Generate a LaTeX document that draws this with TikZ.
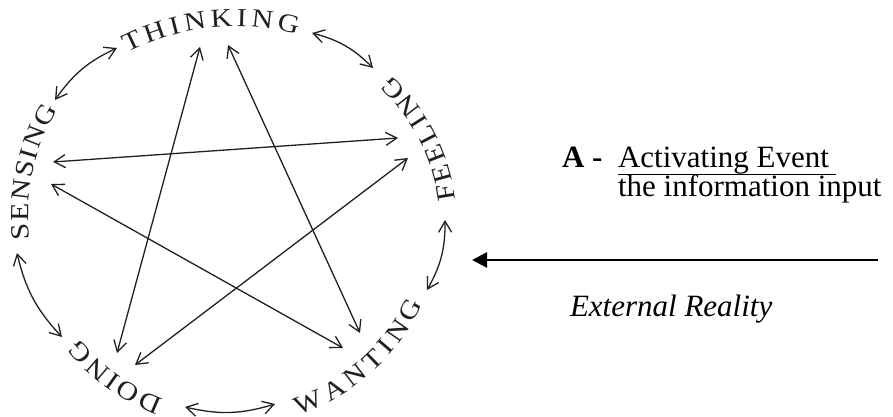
\documentclass[tikz,border=0pt]{standalone}
\usepackage{fontspec}
\newfontfamily\timesfont{Liberation Serif}
\newfontfamily\wideface[FakeStretch=1.15]{Liberation Serif}
\usetikzlibrary{arrows.meta,decorations.text}
\newcommand{\wordfont}{\wideface\fontsize{26}{26}\selectfont}
\newcommand{\notefont}{\timesfont\fontsize{31}{29}\selectfont}

\begin{document}
\begin{tikzpicture}[x=1pt, y=1pt, every node/.style={inner sep=0pt, outer sep=0pt}]
    % colours
    \definecolor{ink}{RGB}{35,31,32}

    % styles
    \tikzstyle{word} = [decorate, font=\wordfont, decoration={text along path, text align={fit to path}, text color=ink}]
    \tikzstyle{link} = [ink, line width=1.3pt, {Straight Barb[length=11pt,width=13pt]}-{Straight Barb[length=11pt,width=13pt]}]
    \tikzstyle{ring} = [link, bend left=15]
    \tikzstyle{note} = [anchor=base west, font=\notefont]

    \useasboundingbox (0,0) rectangle (893,417);

    % centres of the word arcs
    \coordinate (cc) at (232,202);
    \coordinate (ct) at (235,157);
    \coordinate (cf) at (255,192);

    % the five words round the circle
    \path[word, decoration={text={|\wordfont|THINKING}}] ([shift={(117.5:233.5pt)}]ct) arc[start angle=117.5, end angle=74.5, radius=233.5pt];
    \path[word, decoration={text={|\wordfont|SENSING}}] ([shift={(187:203.5pt)}]cc) arc[start angle=187, end angle=148.8, radius=203.5pt];
    \path[word, decoration={text={|\wordfont|DOING}}] ([shift={(249.7:196.5pt)}]cc) arc[start angle=249.7, end angle=218.9, radius=196.5pt];
    \path[word, decoration={text={|\wordfont|WANTING}}] ([shift={(288.5:210.5pt)}]cc) arc[start angle=288.5, end angle=335, radius=210.5pt];
    \path[word, decoration={text={|\wordfont|FEELING}}] ([shift={(7.2:202pt)}]cf) arc[start angle=7.2, end angle=47.8, radius=202pt];

    % ends of the star
    \coordinate (t1) at (200,370);
    \coordinate (t2) at (228,372);
    \coordinate (s1) at (53,255);
    \coordinate (s2) at (51,233);
    \coordinate (f1) at (398,279);
    \coordinate (f2) at (408,259);
    \coordinate (d1) at (117,64);
    \coordinate (d2) at (135,52);
    \coordinate (w1) at (360,84);
    \coordinate (w2) at (343,69);

    % ends of the ring arrows
    \coordinate (s3) at (55,317);
    \coordinate (t3) at (117,369);
    \coordinate (t4) at (312,384);
    \coordinate (f3) at (373,349);
    \coordinate (f4) at (445,197);
    \coordinate (w3) at (427,127);
    \coordinate (w4) at (275,13);
    \coordinate (d3) at (185,10);
    \coordinate (d4) at (62,80);
    \coordinate (s4) at (17,164);

    % star
    \draw[link] (t1) -- (d1);
    \draw[link] (t2) -- (w1);
    \draw[link] (s1) -- (f1);
    \draw[link] (s2) -- (w2);
    \draw[link] (f2) -- (d2);

    % ring
    \draw[ring] (s3) to (t3);
    \draw[ring] (t4) to (f3);
    \draw[ring] (f4) to (w3);
    \draw[ring] (w4) to (d3);
    \draw[ring] (d4) to (s4);

    % right-hand notes
    \node[note] (akey) at (562,249) {\bfseries A -};
    \node[note] (act) at (618,249) {Activating Event};
    \draw[line width=1.3pt] ([yshift=-6.5pt]act.base west) -- ([xshift=7pt,yshift=-6.5pt]act.base east);
    \node[note] (info) at (618,220) {the information input};
    \node[note, font=\notefont\itshape] (ext) at (570,100) {External Reality};

    % input arrow
    \coordinate (ein) at (878,157);
    \coordinate (eout) at (472,157);
    \draw[line width=2.5pt, -{Triangle[length=15pt,width=15pt]}] (ein) -- (eout);
\end{tikzpicture}
\end{document}
